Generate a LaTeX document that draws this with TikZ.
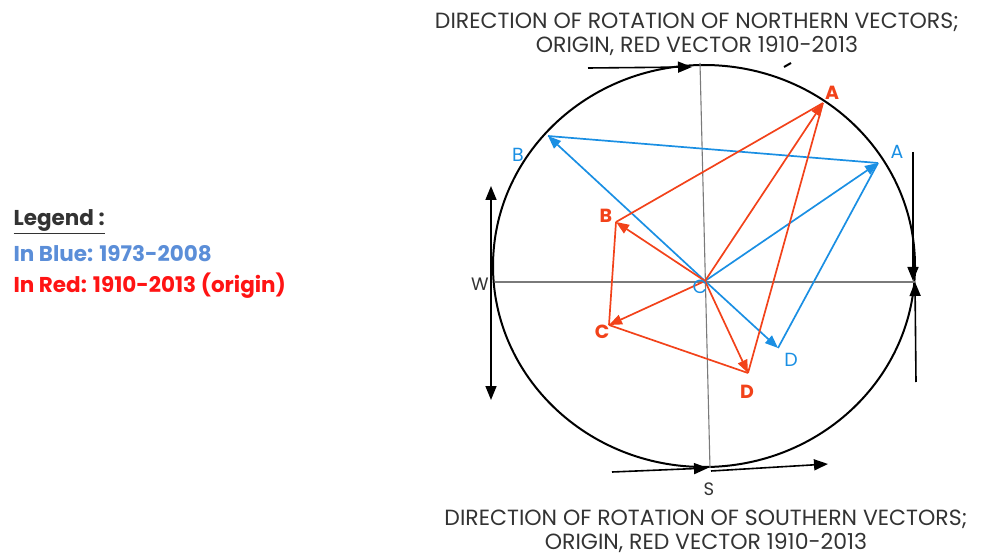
\documentclass[tikz,border=0pt]{standalone}
\usepackage{fontspec}
\setmainfont{Poppins}
\usetikzlibrary{arrows.meta}
\definecolor{vblue}{HTML}{1A8FE3}
\definecolor{vred}{HTML}{F2421A}
\definecolor{lblue}{HTML}{5B8ED8}
\definecolor{lred}{HTML}{FF1414}
\definecolor{ttext}{HTML}{333333}
\definecolor{axisgray}{HTML}{7A7A7A}
\begin{document}
\begin{tikzpicture}[x=1pt,y=-1pt,
  bvec/.style={vblue, line width=1.7pt},
  rvec/.style={vred, line width=1.7pt},
  vtip/.style={-{Triangle[length=13pt,width=10pt]}},
  btip/.style={-{Triangle[length=14pt,width=11pt]}},
  blk/.style={black, line width=1.6pt},
  axisline/.style={axisgray, line width=1.1pt},
  title/.style={ttext, font=\fontsize{22}{24}\selectfont, align=center},
  blab/.style={vblue, font=\fontsize{19}{19}\selectfont},
  rlab/.style={vred, font=\bfseries\fontsize{19}{19}\selectfont},
  leg/.style={anchor=west, font=\bfseries\fontsize{21.5}{22}\selectfont}]
\useasboundingbox (0,0) rectangle (983,556);

% titles
\node[title] (ttop) at (697,34) {DIRECTION OF ROTATION OF NORTHERN VECTORS;\\ORIGIN, RED VECTOR 1910-2013};
\node[title] (tbot) at (706,531) {DIRECTION OF ROTATION OF SOUTHERN VECTORS;\\ORIGIN, RED VECTOR 1910-2013};

% legend
\node[leg, ttext] (lg) at (10,222) {\underline{Legend :}};
\node[leg, lblue] (lb) at (10,254) {In Blue: 1973-2008};
\node[leg, lred] (lr) at (10,286) {In Red: 1910-2013 (origin)};

% circle and axes
\draw[blk, line width=2pt] (704,266) ellipse [x radius=211pt, y radius=201pt];
\coordinate (N) at (700,63);
\coordinate (Sb) at (710,468);
\coordinate (Wp) at (495,282);
\coordinate (Ep) at (915,282);
\draw[axisline] (N) -- (Sb);
\draw[axisline] (Wp) -- (Ep);

% rotation arrows
\coordinate (t1) at (588,68); \coordinate (t2) at (692,67);
\draw[blk, btip] (t1) -- (t2);
\coordinate (tm1) at (784,67); \coordinate (tm2) at (791,63);
\draw[blk, line width=2pt] (tm1) -- (tm2);
\coordinate (w1) at (491,283); \coordinate (wu) at (491,186); \coordinate (wd) at (491,400);
\draw[blk, btip] (w1) -- (wu);
\draw[blk, btip] (w1) -- (wd);
\coordinate (e1) at (913,152); \coordinate (e2) at (913,281);
\draw[blk, btip] (e1) -- (e2);
\coordinate (e3) at (916,382); \coordinate (e4) at (915,282);
\draw[blk, btip] (e3) -- (e4);
\coordinate (s1) at (612,472); \coordinate (s2) at (708,468);
\draw[blk, btip] (s1) -- (s2);
\coordinate (s3) at (711,471); \coordinate (s4) at (828,464);
\draw[blk, btip] (s3) -- (s4);

% vector points
\coordinate (O) at (705,281);
\coordinate (bB) at (548,136);
\coordinate (bA) at (878,163);
\coordinate (bD) at (778,348);
\coordinate (rA) at (823,103);
\coordinate (rB) at (616,222);
\coordinate (rC) at (609,325);
\coordinate (rD) at (748,373);

% blue vectors
\draw[bvec] (bB) -- (bA);
\draw[bvec] (bA) -- (bD);
\draw[bvec, vtip] (O) -- (bB);
\draw[bvec, vtip] (O) -- (bA);
\draw[bvec, vtip] (O) -- (bD);

% red vectors
\draw[rvec] (rB) -- (rA);
\draw[rvec] (rB) -- (rC);
\draw[rvec] (rC) -- (rD);
\draw[rvec] (rD) -- (rA);
\draw[rvec, vtip] (O) -- (rA);
\draw[rvec, vtip] (O) -- (rB);
\draw[rvec, vtip] (O) -- (rC);
\draw[rvec, vtip] (O) -- (rD);

% labels
\node[blab] (lbB) at (518,155) {B};
\node[blab] (lbA) at (897,152) {A};
\node[blab] (lbD) at (791,360) {D};
\node[blab] (lO) at (700,287) {C};
\node[rlab] (lrA) at (832,93) {A};
\node[rlab] (lrB) at (606,216) {B};
\node[rlab] (lrC) at (602,332) {C};
\node[rlab] (lrD) at (747,392) {D};
\node[font=\fontsize{18}{18}\selectfont, text=ttext] (lW) at (480,284) {W};
\node[font=\fontsize{18}{18}\selectfont, text=ttext] (lS) at (709,489) {S};
\end{tikzpicture}
\end{document}
